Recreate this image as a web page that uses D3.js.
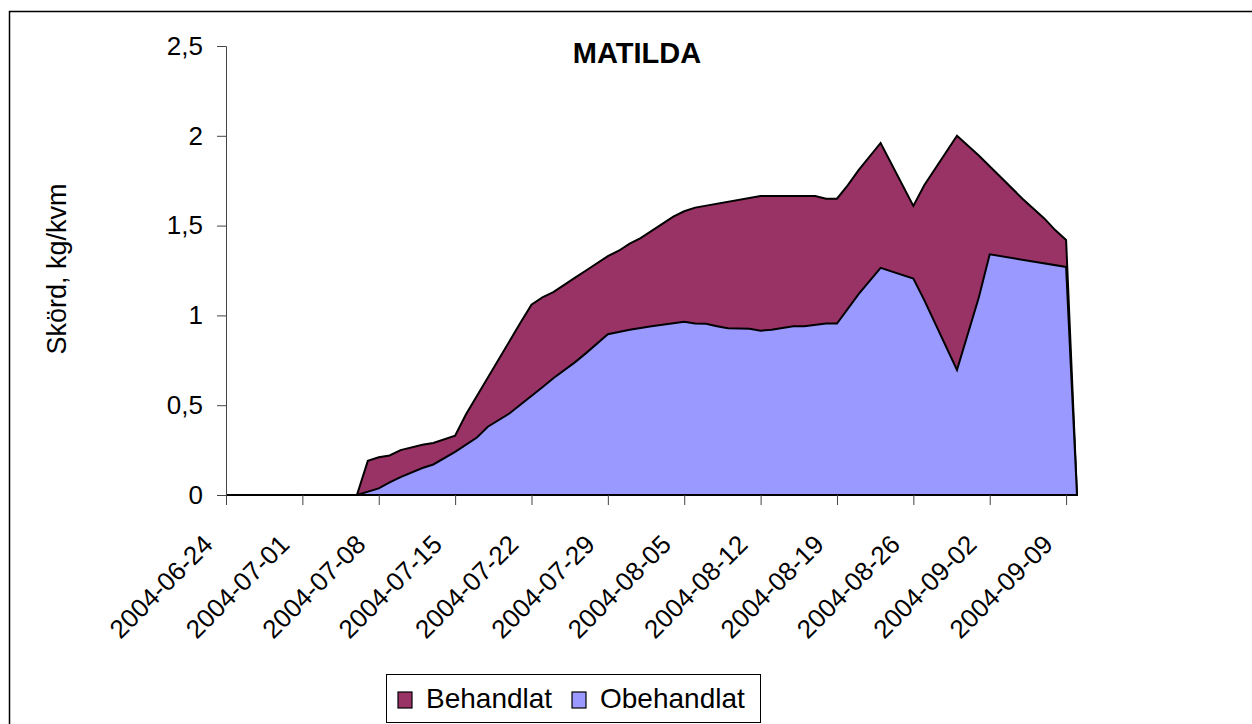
<!DOCTYPE html>
<html>
  <head>
    <meta charset="UTF-8">
    <title>MATILDA</title>
    <style>
      body { margin: 0; background: #fff; }
      svg text { font-family: 'Liberation Sans', Arial, sans-serif; fill: #000; }
    </style>
  </head>
  <body>
    <div id='chart'></div>
    <script src='https://d3js.org/d3.v7.min.js'></script>
    <script>

      // Behandlat (treated)
      const behDates = ['2004-06-24', '2004-07-06', '2004-07-07', '2004-07-08', '2004-07-09', '2004-07-10',
        '2004-07-12', '2004-07-13', '2004-07-15', '2004-07-16', '2004-07-21', '2004-07-22', '2004-07-23',
        '2004-07-24', '2004-07-26', '2004-07-27', '2004-07-29', '2004-07-30', '2004-07-31', '2004-08-01',
        '2004-08-04', '2004-08-05', '2004-08-06', '2004-08-12', '2004-08-17', '2004-08-18', '2004-08-19',
        '2004-08-20', '2004-08-21', '2004-08-23', '2004-08-26', '2004-08-27', '2004-08-30', '2004-09-01',
        '2004-09-05', '2004-09-07', '2004-09-08', '2004-09-09', '2004-09-10'];
      const behValues = [0, 0, 0.19, 0.21, 0.22, 0.25,
        0.28, 0.29, 0.33, 0.45, 0.96, 1.06, 1.10,
        1.13, 1.21, 1.25, 1.33, 1.36, 1.40, 1.43,
        1.55, 1.58, 1.60, 1.665, 1.665, 1.65, 1.65,
        1.725, 1.81, 1.96, 1.61, 1.725, 2.00, 1.89,
        1.65, 1.54, 1.475, 1.42, 0];

      // Obehandlat (untreated)
      const obeDates = ['2004-06-24', '2004-07-06', '2004-07-08', '2004-07-09', '2004-07-10', '2004-07-12',
        '2004-07-13', '2004-07-15', '2004-07-17', '2004-07-18', '2004-07-20', '2004-07-23', '2004-07-24',
        '2004-07-26', '2004-07-27', '2004-07-29', '2004-07-31', '2004-08-02', '2004-08-05', '2004-08-06',
        '2004-08-07', '2004-08-08', '2004-08-09', '2004-08-11', '2004-08-12', '2004-08-13', '2004-08-15',
        '2004-08-16', '2004-08-18', '2004-08-19', '2004-08-21', '2004-08-23', '2004-08-26', '2004-08-27',
        '2004-08-30', '2004-09-01', '2004-09-02', '2004-09-09', '2004-09-10'];
      const obeValues = [0, 0, 0.037, 0.07, 0.10, 0.15,
        0.17, 0.24, 0.32, 0.38, 0.455, 0.60, 0.65,
        0.74, 0.79, 0.895, 0.92, 0.94, 0.965, 0.955,
        0.953, 0.94, 0.928, 0.925, 0.915, 0.92, 0.94,
        0.94, 0.955, 0.955, 1.12, 1.265, 1.205, 1.085,
        0.696, 1.10, 1.34, 1.27, 0];

      const tickDates = ['2004-06-24', '2004-07-01', '2004-07-08', '2004-07-15', '2004-07-22', '2004-07-29',
        '2004-08-05', '2004-08-12', '2004-08-19', '2004-08-26', '2004-09-02', '2004-09-09'];
      const yTicks = [0, 0.5, 1, 1.5, 2, 2.5];

      const seriesNames = ['Behandlat', 'Obehandlat'];
      const seriesColors = ['#993366', '#9999ff'];

      const width = 1252;
      const height = 724;
      const parse = d3.utcParse('%Y-%m-%d');

      const svg = d3.select('#chart')
        .append('svg')
        .attr('width', width)
        .attr('height', height);

      // chart frame (runs off the right/bottom edge like the original)
      svg.append('rect')
        .attr('x', 9.5)
        .attr('y', 11.5)
        .attr('width', 1300)
        .attr('height', 800)
        .attr('fill', 'none')
        .attr('stroke', '#000')
        .attr('stroke-width', 1.5);

      const x = d3.scaleUtc()
        .domain([parse('2004-06-24'), parse('2004-09-10')])
        .range([226, 1077]);

      const y = d3.scaleLinear()
        .domain([0, 2.5])
        .range([495, 46]);

      const area = d3.area()
        .x((d) => x(d.date))
        .y0(y(0))
        .y1((d) => y(d.value));

      const series = [
        behDates.map((d, i) => ({ date: parse(d), value: behValues[i] })),
        obeDates.map((d, i) => ({ date: parse(d), value: obeValues[i] }))
      ];

      svg.append('g')
        .selectAll('path')
        .data(series)
        .enter().append('path')
        .attr('d', area)
        .attr('fill', (d, i) => seriesColors[i])
        .attr('stroke', '#000')
        .attr('stroke-width', 2)
        .attr('stroke-linejoin', 'miter');

      // y axis
      const yAxis = svg.append('g')
        .attr('transform', 'translate(226,0)')
        .call(d3.axisLeft(y)
          .tickValues(yTicks)
          .tickSize(9)
          .tickPadding(14)
          .tickFormat((d) => String(d).replace('.', ',')));
      yAxis.select('.domain').attr('stroke', '#444');
      yAxis.selectAll('.tick line').attr('stroke', '#444');
      yAxis.selectAll('.tick text')
        .attr('font-size', 26)
        .attr('font-family', "'Liberation Sans', Arial, sans-serif");

      // x axis
      const xAxis = svg.append('g')
        .attr('transform', 'translate(0,495)')
        .call(d3.axisBottom(x)
          .tickValues(tickDates.map(parse))
          .tickSize(10)
          .tickFormat(d3.utcFormat('%Y-%m-%d')));
      xAxis.select('.domain').remove();
      xAxis.selectAll('.tick line').attr('stroke', '#444');
      xAxis.selectAll('.tick text')
        .attr('font-size', 26)
        .attr('font-family', "'Liberation Sans', Arial, sans-serif")
        .attr('text-anchor', 'end')
        .attr('dy', null)
        .attr('y', null)
        .attr('transform', 'translate(-12,51) rotate(-45)');

      // title
      svg.append('text')
        .attr('x', 637)
        .attr('y', 63)
        .attr('text-anchor', 'middle')
        .attr('font-size', 29)
        .attr('font-weight', 'bold')
        .text('MATILDA');

      // y label
      svg.append('text')
        .attr('transform', 'translate(66,269) rotate(-90)')
        .attr('text-anchor', 'middle')
        .attr('font-size', 27)
        .text('Skörd, kg/kvm');

      // legend
      const legend = svg.append('g');
      legend.append('rect')
        .attr('x', 386.5)
        .attr('y', 674.5)
        .attr('width', 374)
        .attr('height', 48)
        .attr('fill', '#fff')
        .attr('stroke', '#000')
        .attr('stroke-width', 1);

      const legendX = [398, 572];
      seriesNames.forEach((name, i) => {
        legend.append('rect')
          .attr('x', legendX[i])
          .attr('y', 692)
          .attr('width', 14)
          .attr('height', 16)
          .attr('fill', seriesColors[i])
          .attr('stroke', '#000')
          .attr('stroke-width', 1.2);
        legend.append('text')
          .attr('x', legendX[i] + 28)
          .attr('y', 708)
          .attr('font-size', 28)
          .text(name);
      });

    </script>
  </body>
</html>
